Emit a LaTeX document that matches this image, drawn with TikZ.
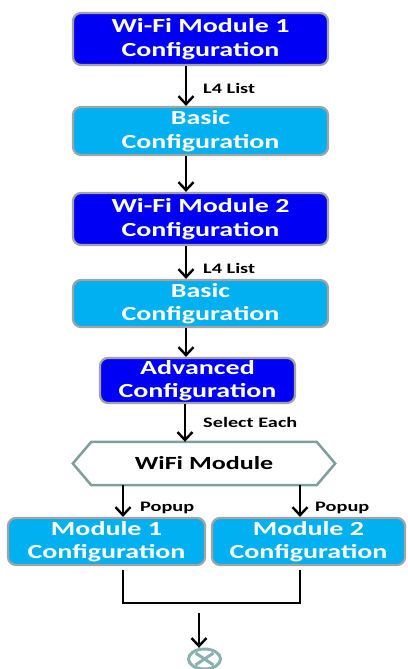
\documentclass[tikz,border=0pt]{standalone}
\usepackage{fontspec}
\newfontfamily\cf{Carlito}[FakeStretch=1.4]
\usetikzlibrary{arrows.meta,calc}
\definecolor{dblue}{HTML}{0000F5}
\definecolor{lblue}{HTML}{00B0F0}
\definecolor{bordergray}{HTML}{A3A3A3}
\definecolor{hexgray}{HTML}{7F9E9E}
\definecolor{endgray}{HTML}{8CB0B0}
\begin{document}
\begin{tikzpicture}[x=1pt,y=-1pt,
  box/.style={draw=bordergray, line width=2.2pt, rounded corners=8pt, text=white,
    font=\cf\bfseries\fontsize{20}{23.5}\selectfont, align=center, inner sep=0pt},
  darkbox/.style={box, fill=dblue},
  lightbox/.style={box, fill=lblue},
  arr/.style={line width=2.4pt, -{Straight Barb[length=8pt,width=15pt,line width=2.4pt]}},
  lbl/.style={font=\cf\bfseries\fontsize{14.5}{16}\selectfont, text=black, anchor=west, inner sep=0pt},
  conn/.style={line width=2.4pt}
]
\useasboundingbox (0,0) rectangle (407,669);

\node[darkbox, minimum width=255pt, minimum height=52pt] (b1) at (200.5,39) {Wi-Fi Module 1\\Configuration};
\node[lightbox, minimum width=255pt, minimum height=48pt] (b2) at (200.5,131) {Basic\\Configuration};
\node[darkbox, minimum width=255pt, minimum height=52pt] (b3) at (200.5,219) {Wi-Fi Module 2\\Configuration};
\node[lightbox, minimum width=255pt, minimum height=47pt] (b4) at (200.5,303.5) {Basic\\Configuration};
\node[darkbox, minimum width=195pt, minimum height=45pt] (b5) at (197.5,380.5) {Advanced\\Configuration};

\node[minimum width=262pt, minimum height=43pt, inner sep=0pt,
  font=\cf\bfseries\fontsize{18.6}{20}\selectfont] (hx) at (204,463.5) {WiFi Module};
\draw[hexgray, line width=2.5pt, line join=miter]
  (hx.west) -- ($(hx.north west)+(18.5,0)$) -- ($(hx.north east)+(-18.5,0)$) -- (hx.east)
  -- ($(hx.south east)+(-18.5,0)$) -- ($(hx.south west)+(18.5,0)$) -- cycle;

\node[lightbox, minimum width=197pt, minimum height=47pt] (m1) at (106.5,541.5) {Module 1\\Configuration};
\node[lightbox, minimum width=193pt, minimum height=47pt] (m2) at (308.5,541.5) {Module 2\\Configuration};

\coordinate (j1) at (123,570);
\coordinate (j2) at (123,603);
\coordinate (j3) at (300,603);
\coordinate (j4) at (300,570);
\coordinate (ea) at (199,613);

\draw[endgray, line width=3pt] (204.5,659) ellipse [x radius=16, y radius=10];
\node[minimum width=35pt, minimum height=22pt, inner sep=0pt] (end) at (204.5,659) {};
\draw[endgray, line width=3pt] ($(end.center)+(-9,-6)$) -- ($(end.center)+(9,6)$);
\draw[endgray, line width=3pt] ($(end.center)+(-9,6)$) -- ($(end.center)+(9,-6)$);

\draw[arr] (b1.south -| 186,0) -- (b2.north -| 186,0);
\node[lbl] at (203,88) {L4 List};
\draw[arr] (b2.south -| 186,0) -- (b3.north -| 186,0);
\draw[arr] (b3.south -| 186,0) -- (b4.north -| 186,0);
\node[lbl] at (203,268) {L4 List};
\draw[arr] (b4.south -| 186,0) -- (b5.north -| 186,0);
\draw[arr] (b5.south -| 185,0) -- (hx.north -| 185,0);
\node[lbl] at (203,422) {Select Each};
\draw[arr] (hx.south -| 123,0) -- (m1.north -| 123,0);
\node[lbl] at (140,508) {Popup};
\draw[arr] (hx.south -| 300,0) -- (m2.north -| 300,0);
\node[lbl] at (315,508) {Popup};

\draw[conn] (j1) -- (j2) -- (j3) -- (j4);
\draw[arr] (ea) -- (end.north -| ea);
\end{tikzpicture}
\end{document}
